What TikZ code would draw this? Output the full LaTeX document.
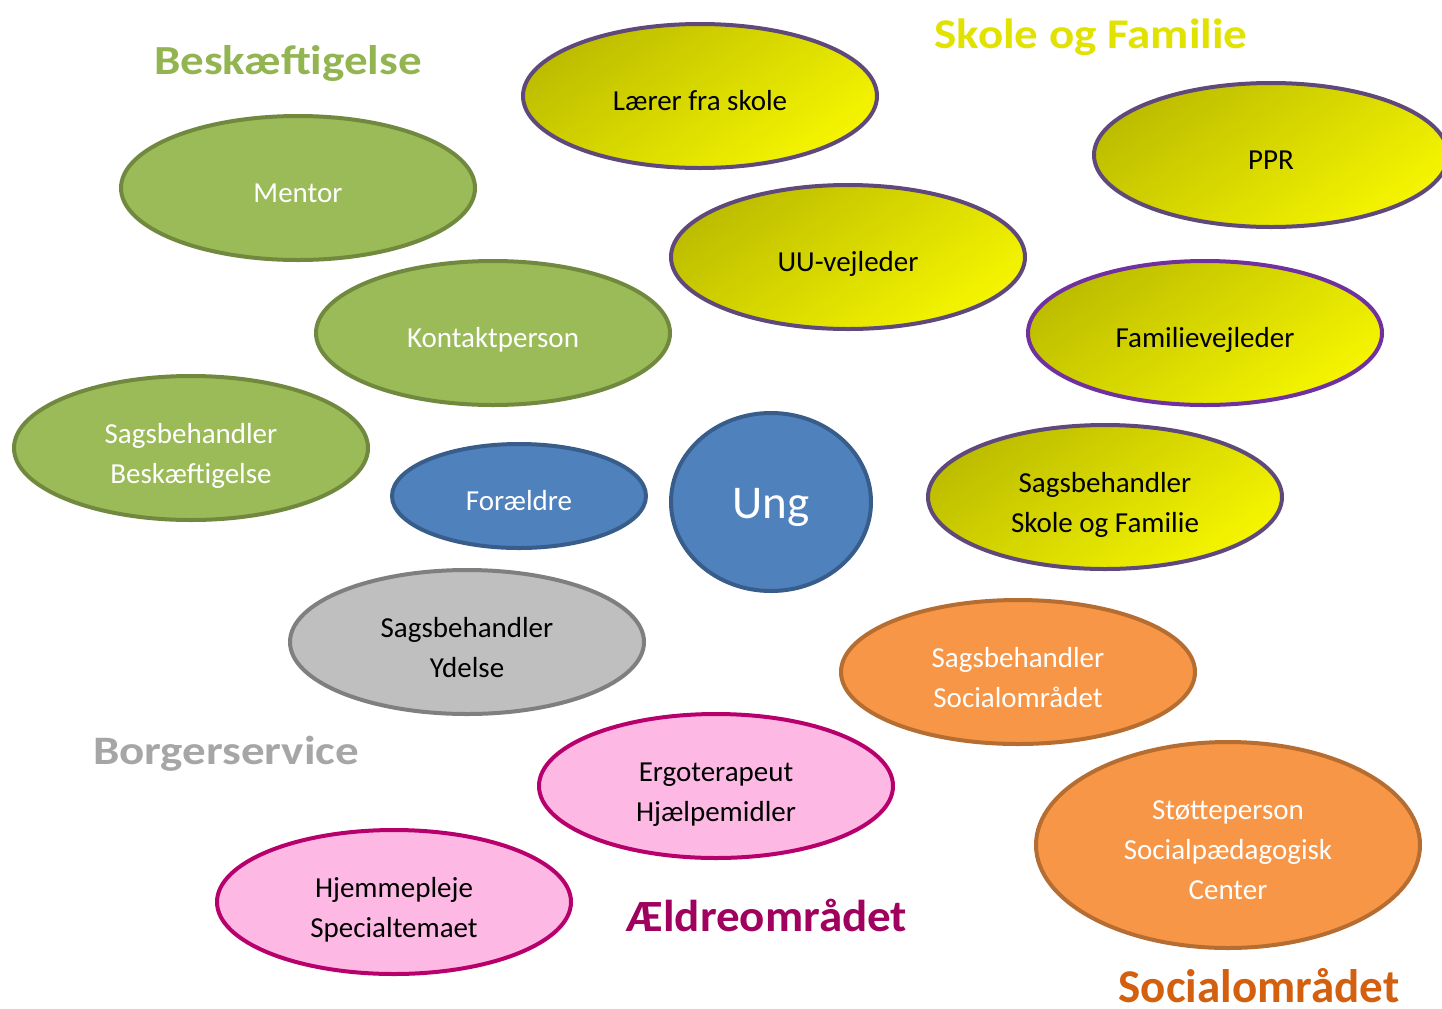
\documentclass[tikz,border=0pt]{standalone}
\usepackage{graphicx}
\usepackage{fontspec}
\setmainfont{Carlito}
\usetikzlibrary{shapes.geometric}
\definecolor{grfill}{HTML}{9BBB59}
\definecolor{grline}{HTML}{71893F}
\definecolor{blfill}{HTML}{4F81BD}
\definecolor{blline}{HTML}{385D8A}
\definecolor{gyfill}{HTML}{BFBFBF}
\definecolor{gyline}{HTML}{7F7F7F}
\definecolor{yedark}{HTML}{BDBD00}
\definecolor{yelight}{HTML}{F5F500}
\definecolor{yeline}{HTML}{5F497A}
\definecolor{famline}{HTML}{7030A0}
\definecolor{orfill}{HTML}{F79646}
\definecolor{orline}{HTML}{B66D31}
\definecolor{pkfill}{HTML}{FDB9E4}
\definecolor{pkline}{HTML}{B8006C}
\definecolor{hgreen}{HTML}{92B552}
\definecolor{hyellow}{HTML}{E2E200}
\definecolor{hgrey}{HTML}{A6A6A6}
\definecolor{hmagenta}{HTML}{A0005E}
\definecolor{horange}{HTML}{D2600E}
\tikzset{
  oval/.style={ellipse, inner sep=0pt, line width=2pt, align=center,
    font=\fontsize{14.5}{20}\selectfont, minimum width=177pt, minimum height=72pt,
    text height=14pt, text depth=0pt},
  twolines/.style={text height=35pt},
  threelines/.style={text height=54pt},
  greenoval/.style={oval, draw=grline, fill=grfill, text=white},
  blueoval/.style={oval, draw=blline, fill=blfill, text=white},
  greyoval/.style={oval, draw=gyline, fill=gyfill, text=black},
  yellowoval/.style={oval, draw=yeline, top color=yedark, bottom color=yelight, shading angle=35, text=black},
  orangeoval/.style={oval, draw=orline, fill=orfill, text=white},
  pinkoval/.style={oval, draw=pkline, fill=pkfill, text=black},
  heading/.style={font=\fontsize{23.5}{28}\selectfont\bfseries, inner sep=0pt, anchor=base}
}
\begin{document}
\begin{tikzpicture}[x=0.5pt,y=-0.5pt]
\useasboundingbox[fill=white] (0,0) rectangle (1442,1008);
% Beskaeftigelse
\node[heading, text=hgreen] (hbes) at (288,74) {\scalebox{1}[0.88]{Beskæftigelse}};
\node[greenoval] (mentor) at (298,188) {Mentor};
\node[greenoval] (kontakt) at (493,333) {Kontaktperson};
\node[greenoval, twolines] (sagbes) at (191,448) {Sagsbehandler\\Beskæftigelse};
% Ung
\node[blueoval, minimum width=127pt, minimum height=52pt] (foraeldre) at (519,496) {Forældre};
\node[blueoval, minimum width=100pt, minimum height=89pt, font=\fontsize{23.5}{28}\selectfont, text height=16pt] (ung) at (771,502) {Ung};
% Borgerservice
\node[greyoval, twolines] (sagydelse) at (467,642) {Sagsbehandler\\Ydelse};
\node[heading, text=hgrey] (hborg) at (226,764) {\scalebox{1}[0.86]{Borgerservice}};
% Skole og Familie
\node[heading, text=hyellow] (hskole) at (1091,48) {\scalebox{1}[0.9]{Skole og Familie}};
\node[yellowoval] (laerer) at (700,96) {Lærer fra skole};
\node[yellowoval] (ppr) at (1271,155) {PPR};
\node[yellowoval] (uu) at (848,257) {UU-vejleder};
\node[yellowoval, draw=famline] (famvej) at (1205,333) {Familievejleder};
\node[yellowoval, twolines] (sagskole) at (1105,497) {Sagsbehandler\\Skole og Familie};
% Socialomraadet
\node[orangeoval, twolines] (sagsocial) at (1018,672) {Sagsbehandler\\Socialområdet};
\node[orangeoval, threelines, minimum width=192pt, minimum height=103pt] (stoette) at (1228,845) {Støtteperson\\Socialpædagogisk\\Center};
\node[heading, text=horange] (hsocial) at (1259,1002) {Socialområdet};
% Aeldreomraadet
\node[pinkoval, twolines] (ergo) at (716,786) {Ergoterapeut\\Hjælpemidler};
\node[pinkoval, twolines] (hjemme) at (394,902) {Hjemmepleje\\Specialtemaet};
\node[heading, text=hmagenta] (haeldre) at (767,931) {\scalebox{1}[0.95]{Ældreområdet}};
\end{tikzpicture}
\end{document}
